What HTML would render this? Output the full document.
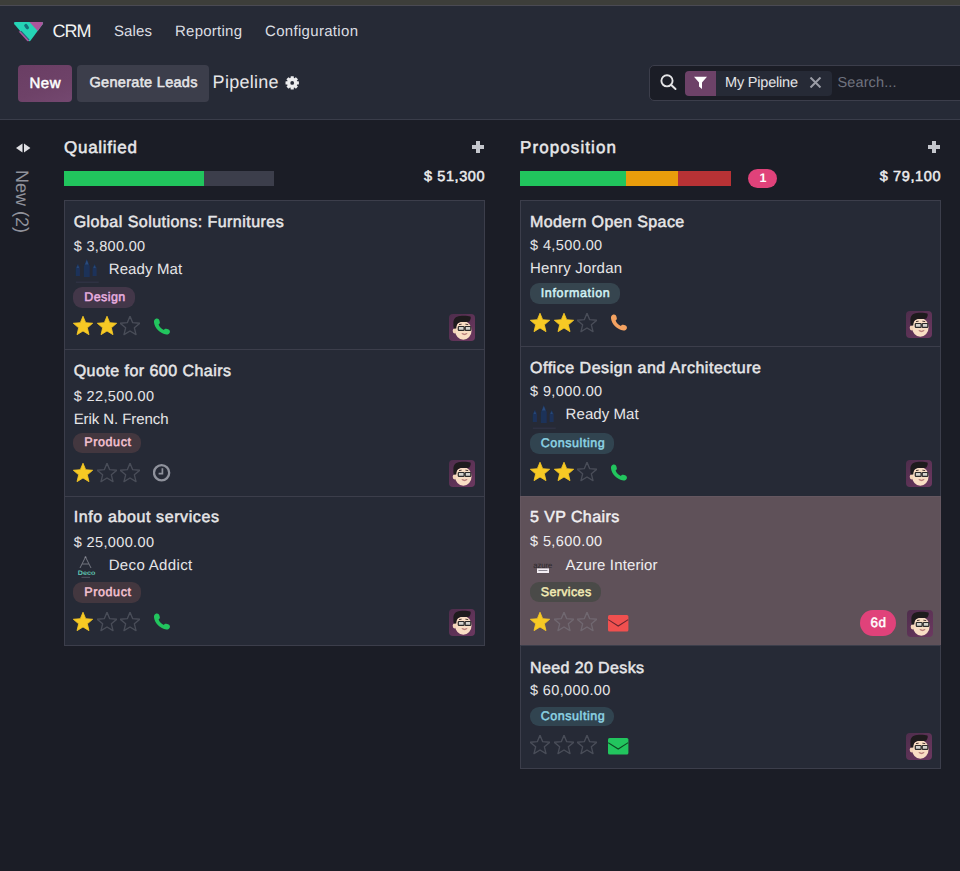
<!DOCTYPE html><html><head><meta charset="utf-8"><title>CRM Pipeline</title><style>
html,body{margin:0;padding:0}body{width:960px;height:871px;overflow:hidden;background:#1b1d26;position:relative;font-family:'Liberation Sans', Arial, sans-serif;text-rendering:geometricPrecision}
.t{position:absolute;white-space:nowrap;line-height:1}
</style></head><body>
<div style="position:absolute;left:0px;top:0px;width:960px;height:5px;background:#3d3e3a;"></div>
<div style="position:absolute;left:0px;top:5px;width:960px;height:1px;background:#4a4a53;"></div>
<div style="position:absolute;left:0px;top:6px;width:960px;height:113px;background:#262a36;"></div>
<div style="position:absolute;left:0px;top:119px;width:960px;height:1px;background:#3a3d4a;"></div>
<svg style="position:absolute;left:10px;top:18px" width="38" height="28" viewBox="0 0 38 28">
<path fill="#25d4b6" d="M5.5,4 L31.5,4 Q34,4 32.6,6.2 L20.6,22.6 Q19.4,24 18.2,22.6 L4.4,6.2 Q3,4 5.5,4 Z"/>
<path fill="#ad559c" d="M19.4,4 L31.5,4 Q34,4 32.6,6.2 L27.8,12.9 Z"/>
<path fill="#ad559c" d="M8.6,13.6 L11.4,13.2 L19.4,21.8 L18.6,23.1 Q17.9,23.6 17.2,22.9 Z"/>
<path stroke="#15707a" stroke-width="3.4" stroke-linecap="round" d="M15.9,7.6 L17.3,9.6" fill="none"/>
<path stroke="#17707a" stroke-width="1.1" d="M11,13.2 L19.2,22" fill="none"/>
</svg>
<div style="position:absolute;left:18px;top:65px;width:54px;height:37px;background:linear-gradient(160deg,#6a3e64 0%,#6e4268 60%,#744870 100%);border-radius:4px"></div>
<div style="position:absolute;left:77px;top:65px;width:132px;height:37px;background:#3c3e4b;border-radius:4px"></div>
<svg style="position:absolute;left:285px;top:75.5px" width="15" height="14" viewBox="0 0 15 14">
<g transform="translate(7.2,6.9)" fill="#ececee">
<circle r="5.1"/>
<rect x="-1.6" y="-6.7" width="3.2" height="13.4" rx="0.5"/>
<rect x="-1.6" y="-6.7" width="3.2" height="13.4" rx="0.5" transform="rotate(45)"/>
<rect x="-1.6" y="-6.7" width="3.2" height="13.4" rx="0.5" transform="rotate(90)"/>
<rect x="-1.6" y="-6.7" width="3.2" height="13.4" rx="0.5" transform="rotate(135)"/>
</g><circle cx="7.2" cy="6.9" r="1.9" fill="#262a36"/></svg>
<div style="position:absolute;left:649px;top:65px;width:340px;height:36px;background:#1b1d26;border:1px solid #3c3e4b;border-radius:5px;box-sizing:border-box"></div>
<svg style="position:absolute;left:659px;top:73px" width="20" height="20" viewBox="0 0 20 20">
<circle cx="8" cy="7.8" r="5.6" fill="none" stroke="#e4e4e6" stroke-width="1.9"/>
<path d="M12,11.8 L16.5,16" stroke="#e4e4e6" stroke-width="2" stroke-linecap="round"/></svg>
<div style="position:absolute;left:685px;top:71px;width:31px;height:25px;background:#6d4268;border-radius:4px 0 0 4px"></div>
<svg style="position:absolute;left:693px;top:76px" width="15" height="14" viewBox="0 0 15 14">
<path d="M1,0.8 L14,0.8 L9,6.5 L9,13 L6,10.5 L6,6.5 Z" fill="#ffffff"/></svg>
<div style="position:absolute;left:716px;top:71px;width:116px;height:25px;background:#262a36;border-radius:0 4px 4px 0"></div>
<svg style="position:absolute;left:809px;top:77px" width="13" height="11" viewBox="0 0 13 11">
<path d="M1.5,0.5 L11.5,10.5 M11.5,0.5 L1.5,10.5" stroke="#9a9ca5" stroke-width="2"/></svg>
<svg style="position:absolute;left:15px;top:143px" width="16" height="10" viewBox="0 0 16 10">
<path d="M7.5,0.5 L7.5,9.5 L1,5 Z" fill="#e0e0e4"/><path d="M9,0.5 L9,9.5 L15.4,5 Z" fill="#e0e0e4"/></svg>
<div style="position:absolute;left:10px;top:170px;width:24px;height:66px;writing-mode:vertical-rl;font-family:'Liberation Sans', Arial, sans-serif;font-size:18px;line-height:24px;color:#90929b;white-space:nowrap;letter-spacing:0px">New (2)</div>
<div style="position:absolute;left:472px;top:145px;width:12px;height:3.6px;background:#c4c6cc;"></div>
<div style="position:absolute;left:476.2px;top:141px;width:3.6px;height:12px;background:#c4c6cc;"></div>
<div style="position:absolute;left:64px;top:171px;width:140px;height:15px;background:#21c55d;"></div>
<div style="position:absolute;left:204px;top:171px;width:70px;height:15px;background:#3c3e4b;"></div>
<div style="position:absolute;left:928px;top:145px;width:12px;height:3.6px;background:#c4c6cc;"></div>
<div style="position:absolute;left:932.2px;top:141px;width:3.6px;height:12px;background:#c4c6cc;"></div>
<div style="position:absolute;left:520px;top:171px;width:105.5px;height:15px;background:#21c55d;"></div>
<div style="position:absolute;left:625.5px;top:171px;width:52.7px;height:15px;background:#e99d0b;"></div>
<div style="position:absolute;left:678.2px;top:171px;width:52.8px;height:15px;background:#b83235;"></div>
<div style="position:absolute;left:748px;top:169px;width:29px;height:19px;background:#e0427a;border-radius:9.5px"></div>
<div style="position:absolute;left:64px;top:200px;width:421px;height:150px;background:#262a36;border:1px solid #3c3e4b;box-sizing:border-box"></div>
<div style="position:absolute;left:64px;top:349px;width:421px;height:148px;background:#262a36;border:1px solid #3c3e4b;box-sizing:border-box"></div>
<div style="position:absolute;left:64px;top:496px;width:421px;height:150px;background:#262a36;border:1px solid #3c3e4b;box-sizing:border-box"></div>
<div style="position:absolute;left:520px;top:200px;width:421px;height:147px;background:#262a36;border:1px solid #3c3e4b;box-sizing:border-box"></div>
<div style="position:absolute;left:520px;top:346px;width:421px;height:151px;background:#262a36;border:1px solid #3c3e4b;box-sizing:border-box"></div>
<div style="position:absolute;left:520px;top:496px;width:421px;height:150px;background:#5f5159;border:1px solid #655760;box-sizing:border-box"></div>
<div style="position:absolute;left:520px;top:645px;width:421px;height:124px;background:#262a36;border:1px solid #3c3e4b;box-sizing:border-box"></div>
<svg style="position:absolute;left:73px;top:258px" width="28" height="27" viewBox="0 0 28 27">
<defs><filter id="bl73258" x="-20%" y="-20%" width="140%" height="140%"><feGaussianBlur stdDeviation="0.45"/></filter></defs>
<g filter="url(#bl73258)">
<path d="M2.8,18 L2.8,10 L4.85,5.8 L6.9,10 L6.9,18 Z" fill="#1c335a"/>
<path d="M10.9,19 L10.9,8 L13.8,1 L16.7,8 L16.7,19 Z" fill="#1b3159"/>
<path d="M19.6,18 L19.6,10 L21.6,6 L23.6,10 L23.6,18 Z" fill="#1c335a"/>
<path d="M12,6.5 L13.8,2 L15.6,6.5 Z" fill="#2a4c7c"/>
<path d="M3.6,10 L4.85,7 L6.1,10 Z" fill="#284878"/>
<path d="M20.4,10 L21.6,7.2 L22.8,10 Z" fill="#284878"/>
<rect x="2.8" y="23.6" width="23" height="1.2" fill="#2f3444"/>
</g></svg>
<div style="position:absolute;left:73px;top:287px;width:62px;height:21px;background:#433749;border-radius:9px"></div>
<svg style="position:absolute;left:73.0px;top:316px" width="20" height="20" viewBox="0 0 20 20"><polygon points="10.00,0.20 12.70,6.68 19.70,7.25 14.37,11.82 16.00,18.65 10.00,15.00 4.00,18.65 5.63,11.82 0.30,7.25 7.30,6.68" fill="#f7c924" stroke="#f7c924" stroke-width="0.8" stroke-linejoin="round"/></svg>
<svg style="position:absolute;left:96.6px;top:316px" width="20" height="20" viewBox="0 0 20 20"><polygon points="10.00,0.20 12.70,6.68 19.70,7.25 14.37,11.82 16.00,18.65 10.00,15.00 4.00,18.65 5.63,11.82 0.30,7.25 7.30,6.68" fill="#f7c924" stroke="#f7c924" stroke-width="0.8" stroke-linejoin="round"/></svg>
<svg style="position:absolute;left:120.2px;top:316px" width="20" height="20" viewBox="0 0 20 20"><polygon points="10.00,0.20 12.70,6.68 19.70,7.25 14.37,11.82 16.00,18.65 10.00,15.00 4.00,18.65 5.63,11.82 0.30,7.25 7.30,6.68" fill="none" stroke="rgba(150,153,163,0.32)" stroke-width="1.35" stroke-linejoin="round"/></svg>
<svg style="position:absolute;left:152.6px;top:317.6px" width="18.6" height="17.5" viewBox="0 0 18 17">
<path d="M3.2,0.6 C4.6,0.2 5.8,1.0 6.2,2.4 L6.6,4.2 C6.8,5.2 6.2,5.9 5.4,6.3 C6.2,8.6 8.2,10.6 10.6,11.6 C11.0,10.8 11.8,10.2 12.8,10.4 L14.6,10.9 C16.0,11.3 16.8,12.6 16.3,14.0 C15.9,15.3 14.6,16.2 13.0,16.1 C7.0,15.5 1.4,9.9 0.9,4.0 C0.8,2.4 1.8,1.0 3.2,0.6 Z" fill="#22c55e"/></svg>
<svg style="position:absolute;left:449px;top:314px" width="26" height="27" viewBox="0 0 26 27">
<defs><linearGradient id="ag449314" x1="0" y1="0" x2="1" y2="1"><stop offset="0" stop-color="#4e2d4c"/><stop offset="1" stop-color="#6c3860"/></linearGradient></defs><rect x="0" y="0" width="26" height="27" rx="4" fill="url(#ag449314)"/>
<ellipse cx="14.3" cy="16.4" rx="8.3" ry="9.3" fill="#f9dec4"/>
<ellipse cx="5.6" cy="16.8" rx="1.9" ry="2.6" fill="#f3d4b8"/>
<path d="M4.4,9.5 C4.2,5 6.5,2.4 11,2 C15,1.7 19,1.8 21.4,2.6 C22.2,3.6 21.6,5.8 20.4,7.4 C18.6,8.2 16,8 13.5,7.9 C11,7.9 9.4,8.3 8.4,9.8 C7.7,11 7.4,12.6 7.2,14.4 L4.8,14.4 C4.4,12.8 4.3,11 4.4,9.5 Z" fill="#1e1b1d"/>
<path d="M10,10.6 L12.6,10.2 M16.4,10.2 L19.2,10.6" stroke="#3a2a28" stroke-width="0.9"/>
<rect x="9.3" y="12.5" width="5.8" height="3.9" rx="0.7" fill="#d4d2cc" stroke="#2b2a2a" stroke-width="1.2"/>
<rect x="16.2" y="12.5" width="5.6" height="3.9" rx="0.7" fill="#d4d2cc" stroke="#2b2a2a" stroke-width="1.2"/>
<path d="M15.1,14 L16.2,14" stroke="#2b2a2a" stroke-width="1"/>
<path d="M12.8,19.6 Q15.4,21.8 18.2,19.5 Q15.4,20.6 12.8,19.6 Z" fill="#c98a8a" stroke="#a86a6a" stroke-width="0.6"/>
</svg>
<div style="position:absolute;left:73px;top:433px;width:67.7px;height:20.3px;background:#43373f;border-radius:9px"></div>
<svg style="position:absolute;left:73.0px;top:462.5px" width="20" height="20" viewBox="0 0 20 20"><polygon points="10.00,0.20 12.70,6.68 19.70,7.25 14.37,11.82 16.00,18.65 10.00,15.00 4.00,18.65 5.63,11.82 0.30,7.25 7.30,6.68" fill="#f7c924" stroke="#f7c924" stroke-width="0.8" stroke-linejoin="round"/></svg>
<svg style="position:absolute;left:96.6px;top:462.5px" width="20" height="20" viewBox="0 0 20 20"><polygon points="10.00,0.20 12.70,6.68 19.70,7.25 14.37,11.82 16.00,18.65 10.00,15.00 4.00,18.65 5.63,11.82 0.30,7.25 7.30,6.68" fill="none" stroke="rgba(150,153,163,0.32)" stroke-width="1.35" stroke-linejoin="round"/></svg>
<svg style="position:absolute;left:120.2px;top:462.5px" width="20" height="20" viewBox="0 0 20 20"><polygon points="10.00,0.20 12.70,6.68 19.70,7.25 14.37,11.82 16.00,18.65 10.00,15.00 4.00,18.65 5.63,11.82 0.30,7.25 7.30,6.68" fill="none" stroke="rgba(150,153,163,0.32)" stroke-width="1.35" stroke-linejoin="round"/></svg>
<svg style="position:absolute;left:152.5px;top:463.5px" width="18" height="18" viewBox="0 0 18 18">
<circle cx="8.6" cy="8.8" r="7.6" fill="none" stroke="#8f929c" stroke-width="2.3"/>
<path d="M9.4,4.3 V9.6 H5.6" fill="none" stroke="#8f929c" stroke-width="1.7"/></svg>
<svg style="position:absolute;left:449px;top:460px" width="26" height="27" viewBox="0 0 26 27">
<defs><linearGradient id="ag449460" x1="0" y1="0" x2="1" y2="1"><stop offset="0" stop-color="#4e2d4c"/><stop offset="1" stop-color="#6c3860"/></linearGradient></defs><rect x="0" y="0" width="26" height="27" rx="4" fill="url(#ag449460)"/>
<ellipse cx="14.3" cy="16.4" rx="8.3" ry="9.3" fill="#f9dec4"/>
<ellipse cx="5.6" cy="16.8" rx="1.9" ry="2.6" fill="#f3d4b8"/>
<path d="M4.4,9.5 C4.2,5 6.5,2.4 11,2 C15,1.7 19,1.8 21.4,2.6 C22.2,3.6 21.6,5.8 20.4,7.4 C18.6,8.2 16,8 13.5,7.9 C11,7.9 9.4,8.3 8.4,9.8 C7.7,11 7.4,12.6 7.2,14.4 L4.8,14.4 C4.4,12.8 4.3,11 4.4,9.5 Z" fill="#1e1b1d"/>
<path d="M10,10.6 L12.6,10.2 M16.4,10.2 L19.2,10.6" stroke="#3a2a28" stroke-width="0.9"/>
<rect x="9.3" y="12.5" width="5.8" height="3.9" rx="0.7" fill="#d4d2cc" stroke="#2b2a2a" stroke-width="1.2"/>
<rect x="16.2" y="12.5" width="5.6" height="3.9" rx="0.7" fill="#d4d2cc" stroke="#2b2a2a" stroke-width="1.2"/>
<path d="M15.1,14 L16.2,14" stroke="#2b2a2a" stroke-width="1"/>
<path d="M12.8,19.6 Q15.4,21.8 18.2,19.5 Q15.4,20.6 12.8,19.6 Z" fill="#c98a8a" stroke="#a86a6a" stroke-width="0.6"/>
</svg>
<svg style="position:absolute;left:73px;top:554px" width="26" height="26" viewBox="0 0 26 26">
<path d="M7,14 L12.5,3 L18,14 M9.2,10 L15.8,10" fill="none" stroke="#7d7f8a" stroke-width="0.9"/>
<circle cx="12.5" cy="3.2" r="0.9" fill="#8a8c96"/>
<text x="13.6" y="21" font-family="Liberation Sans, sans-serif" font-size="6.5" font-weight="700" fill="#5fc2b0" text-anchor="middle" textLength="17.5" lengthAdjust="spacingAndGlyphs">Deco</text>
<rect x="8.5" y="22.8" width="8.5" height="1.2" fill="#4a4d5a"/>
</svg>
<div style="position:absolute;left:73px;top:582px;width:67.7px;height:20.5px;background:#43373f;border-radius:9px"></div>
<svg style="position:absolute;left:73.0px;top:611.5px" width="20" height="20" viewBox="0 0 20 20"><polygon points="10.00,0.20 12.70,6.68 19.70,7.25 14.37,11.82 16.00,18.65 10.00,15.00 4.00,18.65 5.63,11.82 0.30,7.25 7.30,6.68" fill="#f7c924" stroke="#f7c924" stroke-width="0.8" stroke-linejoin="round"/></svg>
<svg style="position:absolute;left:96.6px;top:611.5px" width="20" height="20" viewBox="0 0 20 20"><polygon points="10.00,0.20 12.70,6.68 19.70,7.25 14.37,11.82 16.00,18.65 10.00,15.00 4.00,18.65 5.63,11.82 0.30,7.25 7.30,6.68" fill="none" stroke="rgba(150,153,163,0.32)" stroke-width="1.35" stroke-linejoin="round"/></svg>
<svg style="position:absolute;left:120.2px;top:611.5px" width="20" height="20" viewBox="0 0 20 20"><polygon points="10.00,0.20 12.70,6.68 19.70,7.25 14.37,11.82 16.00,18.65 10.00,15.00 4.00,18.65 5.63,11.82 0.30,7.25 7.30,6.68" fill="none" stroke="rgba(150,153,163,0.32)" stroke-width="1.35" stroke-linejoin="round"/></svg>
<svg style="position:absolute;left:152.6px;top:613.3px" width="18.6" height="17.5" viewBox="0 0 18 17">
<path d="M3.2,0.6 C4.6,0.2 5.8,1.0 6.2,2.4 L6.6,4.2 C6.8,5.2 6.2,5.9 5.4,6.3 C6.2,8.6 8.2,10.6 10.6,11.6 C11.0,10.8 11.8,10.2 12.8,10.4 L14.6,10.9 C16.0,11.3 16.8,12.6 16.3,14.0 C15.9,15.3 14.6,16.2 13.0,16.1 C7.0,15.5 1.4,9.9 0.9,4.0 C0.8,2.4 1.8,1.0 3.2,0.6 Z" fill="#22c55e"/></svg>
<svg style="position:absolute;left:449px;top:609px" width="26" height="27" viewBox="0 0 26 27">
<defs><linearGradient id="ag449609" x1="0" y1="0" x2="1" y2="1"><stop offset="0" stop-color="#4e2d4c"/><stop offset="1" stop-color="#6c3860"/></linearGradient></defs><rect x="0" y="0" width="26" height="27" rx="4" fill="url(#ag449609)"/>
<ellipse cx="14.3" cy="16.4" rx="8.3" ry="9.3" fill="#f9dec4"/>
<ellipse cx="5.6" cy="16.8" rx="1.9" ry="2.6" fill="#f3d4b8"/>
<path d="M4.4,9.5 C4.2,5 6.5,2.4 11,2 C15,1.7 19,1.8 21.4,2.6 C22.2,3.6 21.6,5.8 20.4,7.4 C18.6,8.2 16,8 13.5,7.9 C11,7.9 9.4,8.3 8.4,9.8 C7.7,11 7.4,12.6 7.2,14.4 L4.8,14.4 C4.4,12.8 4.3,11 4.4,9.5 Z" fill="#1e1b1d"/>
<path d="M10,10.6 L12.6,10.2 M16.4,10.2 L19.2,10.6" stroke="#3a2a28" stroke-width="0.9"/>
<rect x="9.3" y="12.5" width="5.8" height="3.9" rx="0.7" fill="#d4d2cc" stroke="#2b2a2a" stroke-width="1.2"/>
<rect x="16.2" y="12.5" width="5.6" height="3.9" rx="0.7" fill="#d4d2cc" stroke="#2b2a2a" stroke-width="1.2"/>
<path d="M15.1,14 L16.2,14" stroke="#2b2a2a" stroke-width="1"/>
<path d="M12.8,19.6 Q15.4,21.8 18.2,19.5 Q15.4,20.6 12.8,19.6 Z" fill="#c98a8a" stroke="#a86a6a" stroke-width="0.6"/>
</svg>
<div style="position:absolute;left:530px;top:283.4px;width:89.7px;height:20.3px;background:#36454f;border-radius:9px"></div>
<svg style="position:absolute;left:530.0px;top:312.5px" width="20" height="20" viewBox="0 0 20 20"><polygon points="10.00,0.20 12.70,6.68 19.70,7.25 14.37,11.82 16.00,18.65 10.00,15.00 4.00,18.65 5.63,11.82 0.30,7.25 7.30,6.68" fill="#f7c924" stroke="#f7c924" stroke-width="0.8" stroke-linejoin="round"/></svg>
<svg style="position:absolute;left:553.6px;top:312.5px" width="20" height="20" viewBox="0 0 20 20"><polygon points="10.00,0.20 12.70,6.68 19.70,7.25 14.37,11.82 16.00,18.65 10.00,15.00 4.00,18.65 5.63,11.82 0.30,7.25 7.30,6.68" fill="#f7c924" stroke="#f7c924" stroke-width="0.8" stroke-linejoin="round"/></svg>
<svg style="position:absolute;left:577.2px;top:312.5px" width="20" height="20" viewBox="0 0 20 20"><polygon points="10.00,0.20 12.70,6.68 19.70,7.25 14.37,11.82 16.00,18.65 10.00,15.00 4.00,18.65 5.63,11.82 0.30,7.25 7.30,6.68" fill="none" stroke="rgba(150,153,163,0.32)" stroke-width="1.35" stroke-linejoin="round"/></svg>
<svg style="position:absolute;left:609.5px;top:314px" width="18.6" height="17.5" viewBox="0 0 18 17">
<path d="M3.2,0.6 C4.6,0.2 5.8,1.0 6.2,2.4 L6.6,4.2 C6.8,5.2 6.2,5.9 5.4,6.3 C6.2,8.6 8.2,10.6 10.6,11.6 C11.0,10.8 11.8,10.2 12.8,10.4 L14.6,10.9 C16.0,11.3 16.8,12.6 16.3,14.0 C15.9,15.3 14.6,16.2 13.0,16.1 C7.0,15.5 1.4,9.9 0.9,4.0 C0.8,2.4 1.8,1.0 3.2,0.6 Z" fill="#f4a261"/></svg>
<svg style="position:absolute;left:905.5px;top:310.5px" width="26" height="27" viewBox="0 0 26 27">
<defs><linearGradient id="ag905310" x1="0" y1="0" x2="1" y2="1"><stop offset="0" stop-color="#4e2d4c"/><stop offset="1" stop-color="#6c3860"/></linearGradient></defs><rect x="0" y="0" width="26" height="27" rx="4" fill="url(#ag905310)"/>
<ellipse cx="14.3" cy="16.4" rx="8.3" ry="9.3" fill="#f9dec4"/>
<ellipse cx="5.6" cy="16.8" rx="1.9" ry="2.6" fill="#f3d4b8"/>
<path d="M4.4,9.5 C4.2,5 6.5,2.4 11,2 C15,1.7 19,1.8 21.4,2.6 C22.2,3.6 21.6,5.8 20.4,7.4 C18.6,8.2 16,8 13.5,7.9 C11,7.9 9.4,8.3 8.4,9.8 C7.7,11 7.4,12.6 7.2,14.4 L4.8,14.4 C4.4,12.8 4.3,11 4.4,9.5 Z" fill="#1e1b1d"/>
<path d="M10,10.6 L12.6,10.2 M16.4,10.2 L19.2,10.6" stroke="#3a2a28" stroke-width="0.9"/>
<rect x="9.3" y="12.5" width="5.8" height="3.9" rx="0.7" fill="#d4d2cc" stroke="#2b2a2a" stroke-width="1.2"/>
<rect x="16.2" y="12.5" width="5.6" height="3.9" rx="0.7" fill="#d4d2cc" stroke="#2b2a2a" stroke-width="1.2"/>
<path d="M15.1,14 L16.2,14" stroke="#2b2a2a" stroke-width="1"/>
<path d="M12.8,19.6 Q15.4,21.8 18.2,19.5 Q15.4,20.6 12.8,19.6 Z" fill="#c98a8a" stroke="#a86a6a" stroke-width="0.6"/>
</svg>
<svg style="position:absolute;left:530px;top:404px" width="28" height="27" viewBox="0 0 28 27">
<defs><filter id="bl530404" x="-20%" y="-20%" width="140%" height="140%"><feGaussianBlur stdDeviation="0.45"/></filter></defs>
<g filter="url(#bl530404)">
<path d="M2.8,18 L2.8,10 L4.85,5.8 L6.9,10 L6.9,18 Z" fill="#1c335a"/>
<path d="M10.9,19 L10.9,8 L13.8,1 L16.7,8 L16.7,19 Z" fill="#1b3159"/>
<path d="M19.6,18 L19.6,10 L21.6,6 L23.6,10 L23.6,18 Z" fill="#1c335a"/>
<path d="M12,6.5 L13.8,2 L15.6,6.5 Z" fill="#2a4c7c"/>
<path d="M3.6,10 L4.85,7 L6.1,10 Z" fill="#284878"/>
<path d="M20.4,10 L21.6,7.2 L22.8,10 Z" fill="#284878"/>
<rect x="2.8" y="23.6" width="23" height="1.2" fill="#2f3444"/>
</g></svg>
<div style="position:absolute;left:530px;top:433.2px;width:84px;height:20.6px;background:#314450;border-radius:9px"></div>
<svg style="position:absolute;left:530.0px;top:462px" width="20" height="20" viewBox="0 0 20 20"><polygon points="10.00,0.20 12.70,6.68 19.70,7.25 14.37,11.82 16.00,18.65 10.00,15.00 4.00,18.65 5.63,11.82 0.30,7.25 7.30,6.68" fill="#f7c924" stroke="#f7c924" stroke-width="0.8" stroke-linejoin="round"/></svg>
<svg style="position:absolute;left:553.6px;top:462px" width="20" height="20" viewBox="0 0 20 20"><polygon points="10.00,0.20 12.70,6.68 19.70,7.25 14.37,11.82 16.00,18.65 10.00,15.00 4.00,18.65 5.63,11.82 0.30,7.25 7.30,6.68" fill="#f7c924" stroke="#f7c924" stroke-width="0.8" stroke-linejoin="round"/></svg>
<svg style="position:absolute;left:577.2px;top:462px" width="20" height="20" viewBox="0 0 20 20"><polygon points="10.00,0.20 12.70,6.68 19.70,7.25 14.37,11.82 16.00,18.65 10.00,15.00 4.00,18.65 5.63,11.82 0.30,7.25 7.30,6.68" fill="none" stroke="rgba(150,153,163,0.32)" stroke-width="1.35" stroke-linejoin="round"/></svg>
<svg style="position:absolute;left:609.5px;top:464px" width="18.6" height="17.5" viewBox="0 0 18 17">
<path d="M3.2,0.6 C4.6,0.2 5.8,1.0 6.2,2.4 L6.6,4.2 C6.8,5.2 6.2,5.9 5.4,6.3 C6.2,8.6 8.2,10.6 10.6,11.6 C11.0,10.8 11.8,10.2 12.8,10.4 L14.6,10.9 C16.0,11.3 16.8,12.6 16.3,14.0 C15.9,15.3 14.6,16.2 13.0,16.1 C7.0,15.5 1.4,9.9 0.9,4.0 C0.8,2.4 1.8,1.0 3.2,0.6 Z" fill="#22c55e"/></svg>
<svg style="position:absolute;left:905.5px;top:460px" width="26" height="27" viewBox="0 0 26 27">
<defs><linearGradient id="ag905460" x1="0" y1="0" x2="1" y2="1"><stop offset="0" stop-color="#4e2d4c"/><stop offset="1" stop-color="#6c3860"/></linearGradient></defs><rect x="0" y="0" width="26" height="27" rx="4" fill="url(#ag905460)"/>
<ellipse cx="14.3" cy="16.4" rx="8.3" ry="9.3" fill="#f9dec4"/>
<ellipse cx="5.6" cy="16.8" rx="1.9" ry="2.6" fill="#f3d4b8"/>
<path d="M4.4,9.5 C4.2,5 6.5,2.4 11,2 C15,1.7 19,1.8 21.4,2.6 C22.2,3.6 21.6,5.8 20.4,7.4 C18.6,8.2 16,8 13.5,7.9 C11,7.9 9.4,8.3 8.4,9.8 C7.7,11 7.4,12.6 7.2,14.4 L4.8,14.4 C4.4,12.8 4.3,11 4.4,9.5 Z" fill="#1e1b1d"/>
<path d="M10,10.6 L12.6,10.2 M16.4,10.2 L19.2,10.6" stroke="#3a2a28" stroke-width="0.9"/>
<rect x="9.3" y="12.5" width="5.8" height="3.9" rx="0.7" fill="#d4d2cc" stroke="#2b2a2a" stroke-width="1.2"/>
<rect x="16.2" y="12.5" width="5.6" height="3.9" rx="0.7" fill="#d4d2cc" stroke="#2b2a2a" stroke-width="1.2"/>
<path d="M15.1,14 L16.2,14" stroke="#2b2a2a" stroke-width="1"/>
<path d="M12.8,19.6 Q15.4,21.8 18.2,19.5 Q15.4,20.6 12.8,19.6 Z" fill="#c98a8a" stroke="#a86a6a" stroke-width="0.6"/>
</svg>
<svg style="position:absolute;left:528px;top:555px" width="26" height="22" viewBox="0 0 26 22">
<text x="14.8" y="12.6" font-family="Liberation Sans, sans-serif" font-size="8" font-weight="400" fill="#2c282c" text-anchor="middle" textLength="19" lengthAdjust="spacingAndGlyphs">azure</text>
<rect x="9" y="13.4" width="12" height="4.6" fill="#f4eef4"/>
<rect x="10.4" y="15" width="9" height="1" fill="#8a8590"/>
</svg>
<div style="position:absolute;left:530px;top:582.2px;width:70.6px;height:20.1px;background:#4a4a48;border-radius:9px"></div>
<svg style="position:absolute;left:530.0px;top:611.5px" width="20" height="20" viewBox="0 0 20 20"><polygon points="10.00,0.20 12.70,6.68 19.70,7.25 14.37,11.82 16.00,18.65 10.00,15.00 4.00,18.65 5.63,11.82 0.30,7.25 7.30,6.68" fill="#f7c924" stroke="#f7c924" stroke-width="0.8" stroke-linejoin="round"/></svg>
<svg style="position:absolute;left:553.6px;top:611.5px" width="20" height="20" viewBox="0 0 20 20"><polygon points="10.00,0.20 12.70,6.68 19.70,7.25 14.37,11.82 16.00,18.65 10.00,15.00 4.00,18.65 5.63,11.82 0.30,7.25 7.30,6.68" fill="none" stroke="rgba(150,153,163,0.32)" stroke-width="1.35" stroke-linejoin="round"/></svg>
<svg style="position:absolute;left:577.2px;top:611.5px" width="20" height="20" viewBox="0 0 20 20"><polygon points="10.00,0.20 12.70,6.68 19.70,7.25 14.37,11.82 16.00,18.65 10.00,15.00 4.00,18.65 5.63,11.82 0.30,7.25 7.30,6.68" fill="none" stroke="rgba(150,153,163,0.32)" stroke-width="1.35" stroke-linejoin="round"/></svg>
<svg style="position:absolute;left:607.7px;top:615.4px" width="21" height="17" viewBox="0 0 21 17">
<rect x="0" y="0" width="20.4" height="16.5" rx="1.6" fill="#f0504f"/>
<path d="M0.2,4.6 L10.2,11 L20.2,4.6" fill="none" stroke="#6a2630" stroke-width="1.1"/></svg>
<div style="position:absolute;left:860px;top:610px;width:36.2px;height:25.8px;background:#e0427a;border-radius:12.9px"></div>
<svg style="position:absolute;left:906.5px;top:609.5px" width="26" height="27" viewBox="0 0 26 27">
<defs><linearGradient id="ag906609" x1="0" y1="0" x2="1" y2="1"><stop offset="0" stop-color="#4e2d4c"/><stop offset="1" stop-color="#6c3860"/></linearGradient></defs><rect x="0" y="0" width="26" height="27" rx="4" fill="url(#ag906609)"/>
<ellipse cx="14.3" cy="16.4" rx="8.3" ry="9.3" fill="#f9dec4"/>
<ellipse cx="5.6" cy="16.8" rx="1.9" ry="2.6" fill="#f3d4b8"/>
<path d="M4.4,9.5 C4.2,5 6.5,2.4 11,2 C15,1.7 19,1.8 21.4,2.6 C22.2,3.6 21.6,5.8 20.4,7.4 C18.6,8.2 16,8 13.5,7.9 C11,7.9 9.4,8.3 8.4,9.8 C7.7,11 7.4,12.6 7.2,14.4 L4.8,14.4 C4.4,12.8 4.3,11 4.4,9.5 Z" fill="#1e1b1d"/>
<path d="M10,10.6 L12.6,10.2 M16.4,10.2 L19.2,10.6" stroke="#3a2a28" stroke-width="0.9"/>
<rect x="9.3" y="12.5" width="5.8" height="3.9" rx="0.7" fill="#d4d2cc" stroke="#2b2a2a" stroke-width="1.2"/>
<rect x="16.2" y="12.5" width="5.6" height="3.9" rx="0.7" fill="#d4d2cc" stroke="#2b2a2a" stroke-width="1.2"/>
<path d="M15.1,14 L16.2,14" stroke="#2b2a2a" stroke-width="1"/>
<path d="M12.8,19.6 Q15.4,21.8 18.2,19.5 Q15.4,20.6 12.8,19.6 Z" fill="#c98a8a" stroke="#a86a6a" stroke-width="0.6"/>
</svg>
<div style="position:absolute;left:530px;top:706.6px;width:84px;height:19.3px;background:#314450;border-radius:9px"></div>
<svg style="position:absolute;left:530.0px;top:735px" width="20" height="20" viewBox="0 0 20 20"><polygon points="10.00,0.20 12.70,6.68 19.70,7.25 14.37,11.82 16.00,18.65 10.00,15.00 4.00,18.65 5.63,11.82 0.30,7.25 7.30,6.68" fill="none" stroke="rgba(150,153,163,0.32)" stroke-width="1.35" stroke-linejoin="round"/></svg>
<svg style="position:absolute;left:553.6px;top:735px" width="20" height="20" viewBox="0 0 20 20"><polygon points="10.00,0.20 12.70,6.68 19.70,7.25 14.37,11.82 16.00,18.65 10.00,15.00 4.00,18.65 5.63,11.82 0.30,7.25 7.30,6.68" fill="none" stroke="rgba(150,153,163,0.32)" stroke-width="1.35" stroke-linejoin="round"/></svg>
<svg style="position:absolute;left:577.2px;top:735px" width="20" height="20" viewBox="0 0 20 20"><polygon points="10.00,0.20 12.70,6.68 19.70,7.25 14.37,11.82 16.00,18.65 10.00,15.00 4.00,18.65 5.63,11.82 0.30,7.25 7.30,6.68" fill="none" stroke="rgba(150,153,163,0.32)" stroke-width="1.35" stroke-linejoin="round"/></svg>
<svg style="position:absolute;left:607.7px;top:738px" width="21" height="17" viewBox="0 0 21 17">
<rect x="0" y="0" width="20.4" height="16.5" rx="1.6" fill="#22c55e"/>
<path d="M0.2,4.6 L10.2,11 L20.2,4.6" fill="none" stroke="#0c4a22" stroke-width="1.1"/></svg>
<svg style="position:absolute;left:905.5px;top:733px" width="26" height="27" viewBox="0 0 26 27">
<defs><linearGradient id="ag905733" x1="0" y1="0" x2="1" y2="1"><stop offset="0" stop-color="#4e2d4c"/><stop offset="1" stop-color="#6c3860"/></linearGradient></defs><rect x="0" y="0" width="26" height="27" rx="4" fill="url(#ag905733)"/>
<ellipse cx="14.3" cy="16.4" rx="8.3" ry="9.3" fill="#f9dec4"/>
<ellipse cx="5.6" cy="16.8" rx="1.9" ry="2.6" fill="#f3d4b8"/>
<path d="M4.4,9.5 C4.2,5 6.5,2.4 11,2 C15,1.7 19,1.8 21.4,2.6 C22.2,3.6 21.6,5.8 20.4,7.4 C18.6,8.2 16,8 13.5,7.9 C11,7.9 9.4,8.3 8.4,9.8 C7.7,11 7.4,12.6 7.2,14.4 L4.8,14.4 C4.4,12.8 4.3,11 4.4,9.5 Z" fill="#1e1b1d"/>
<path d="M10,10.6 L12.6,10.2 M16.4,10.2 L19.2,10.6" stroke="#3a2a28" stroke-width="0.9"/>
<rect x="9.3" y="12.5" width="5.8" height="3.9" rx="0.7" fill="#d4d2cc" stroke="#2b2a2a" stroke-width="1.2"/>
<rect x="16.2" y="12.5" width="5.6" height="3.9" rx="0.7" fill="#d4d2cc" stroke="#2b2a2a" stroke-width="1.2"/>
<path d="M15.1,14 L16.2,14" stroke="#2b2a2a" stroke-width="1"/>
<path d="M12.8,19.6 Q15.4,21.8 18.2,19.5 Q15.4,20.6 12.8,19.6 Z" fill="#c98a8a" stroke="#a86a6a" stroke-width="0.6"/>
</svg>
<div class="t" id="t0" style="left:52.50px;top:21.76px;font-size:18px;font-weight:400;color:#f2f2f2;letter-spacing:-1.000px;">CRM</div>
<div class="t" id="t1" style="left:114.00px;top:23.90px;font-size:15px;font-weight:400;color:#dcdee2;letter-spacing:0.117px;">Sales</div>
<div class="t" id="t2" style="left:175.00px;top:23.90px;font-size:15px;font-weight:400;color:#dcdee2;letter-spacing:0.244px;">Reporting</div>
<div class="t" id="t3" style="left:265.00px;top:23.90px;font-size:15px;font-weight:400;color:#dcdee2;letter-spacing:0.314px;">Configuration</div>
<div class="t" id="t4" style="left:29.50px;top:75.90px;font-size:15px;font-weight:400;-webkit-text-stroke:0.5px #ffffff;color:#ffffff;letter-spacing:0.492px;">New</div>
<div class="t" id="t5" style="left:89.50px;top:75.73px;font-size:14.5px;font-weight:400;-webkit-text-stroke:0.5px #e6e6e8;color:#e6e6e8;letter-spacing:0.308px;">Generate Leads</div>
<div class="t" id="t6" style="left:212.60px;top:73.06px;font-size:18px;font-weight:400;color:#e6e6e8;letter-spacing:0.279px;">Pipeline</div>
<div class="t" id="t7" style="left:725.00px;top:76.23px;font-size:14.5px;font-weight:400;color:#e4e4e6;letter-spacing:-0.195px;">My Pipeline</div>
<div class="t" id="t8" style="left:837.50px;top:76.23px;font-size:14.5px;font-weight:400;color:#6f727e;letter-spacing:0.121px;">Search...</div>
<div class="t" id="t9" style="left:64.00px;top:139.11px;font-size:17px;font-weight:400;-webkit-text-stroke:0.5px #e8e8ea;color:#e8e8ea;letter-spacing:0.736px;">Qualified</div>
<div class="t" id="t10" style="left:424.00px;top:170.23px;font-size:14.5px;font-weight:400;-webkit-text-stroke:0.5px #ececee;color:#ececee;letter-spacing:0.578px;">$ 51,300</div>
<div class="t" id="t11" style="left:520.00px;top:139.11px;font-size:17px;font-weight:400;-webkit-text-stroke:0.5px #e8e8ea;color:#e8e8ea;letter-spacing:1.094px;">Proposition</div>
<div class="t" id="t12" style="left:759.50px;top:172.42px;font-size:12.5px;font-weight:700;color:#ffffff;letter-spacing:0.047px;">1</div>
<div class="t" id="t13" style="left:879.70px;top:170.23px;font-size:14.5px;font-weight:400;-webkit-text-stroke:0.5px #ececee;color:#ececee;letter-spacing:0.621px;">$ 79,100</div>
<div class="t" id="t14" style="left:73.70px;top:214.76px;font-size:16px;font-weight:400;-webkit-text-stroke:0.5px #e6e6e8;color:#e6e6e8;letter-spacing:0.465px;">Global Solutions: Furnitures</div>
<div class="t" id="t15" style="left:73.70px;top:239.53px;font-size:14.5px;font-weight:400;color:#e6e6e8;letter-spacing:0.328px;">$ 3,800.00</div>
<div class="t" id="t16" style="left:108.70px;top:261.60px;font-size:15px;font-weight:400;color:#e6e6e8;letter-spacing:0.119px;">Ready Mat</div>
<div class="t" id="t17" style="left:84.30px;top:290.72px;font-size:12.5px;font-weight:400;-webkit-text-stroke:0.5px #eab0e0;color:#eab0e0;letter-spacing:0.416px;">Design</div>
<div class="t" id="t18" style="left:73.70px;top:364.06px;font-size:16px;font-weight:400;-webkit-text-stroke:0.5px #e6e6e8;color:#e6e6e8;letter-spacing:0.462px;">Quote for 600 Chairs</div>
<div class="t" id="t19" style="left:73.70px;top:389.53px;font-size:14.5px;font-weight:400;color:#e6e6e8;letter-spacing:0.369px;">$ 22,500.00</div>
<div class="t" id="t20" style="left:73.70px;top:411.60px;font-size:15px;font-weight:400;color:#e6e6e8;letter-spacing:-0.081px;">Erik N. French</div>
<div class="t" id="t21" style="left:84.30px;top:436.42px;font-size:12.5px;font-weight:400;-webkit-text-stroke:0.5px #f5c2d2;color:#f5c2d2;letter-spacing:0.601px;">Product</div>
<div class="t" id="t22" style="left:73.70px;top:510.26px;font-size:16px;font-weight:400;-webkit-text-stroke:0.5px #e6e6e8;color:#e6e6e8;letter-spacing:0.611px;">Info about services</div>
<div class="t" id="t23" style="left:73.70px;top:535.73px;font-size:14.5px;font-weight:400;color:#e6e6e8;letter-spacing:0.369px;">$ 25,000.00</div>
<div class="t" id="t24" style="left:108.70px;top:557.90px;font-size:15px;font-weight:400;color:#e6e6e8;letter-spacing:0.345px;">Deco Addict</div>
<div class="t" id="t25" style="left:84.30px;top:585.92px;font-size:12.5px;font-weight:400;-webkit-text-stroke:0.5px #f5c2d2;color:#f5c2d2;letter-spacing:0.601px;">Product</div>
<div class="t" id="t26" style="left:530.00px;top:215.26px;font-size:16px;font-weight:400;-webkit-text-stroke:0.5px #e6e6e8;color:#e6e6e8;letter-spacing:0.409px;">Modern Open Space</div>
<div class="t" id="t27" style="left:530.00px;top:239.03px;font-size:14.5px;font-weight:400;color:#e6e6e8;letter-spacing:0.406px;">$ 4,500.00</div>
<div class="t" id="t28" style="left:530.00px;top:261.00px;font-size:15px;font-weight:400;color:#e6e6e8;letter-spacing:0.178px;">Henry Jordan</div>
<div class="t" id="t29" style="left:540.70px;top:287.42px;font-size:12.5px;font-weight:400;-webkit-text-stroke:0.5px #d2f2f4;color:#d2f2f4;letter-spacing:0.647px;">Information</div>
<div class="t" id="t30" style="left:530.00px;top:361.46px;font-size:16px;font-weight:400;-webkit-text-stroke:0.5px #e6e6e8;color:#e6e6e8;letter-spacing:0.523px;">Office Design and Architecture</div>
<div class="t" id="t31" style="left:530.00px;top:385.33px;font-size:14.5px;font-weight:400;color:#e6e6e8;letter-spacing:0.406px;">$ 9,000.00</div>
<div class="t" id="t32" style="left:565.60px;top:407.30px;font-size:15px;font-weight:400;color:#e6e6e8;letter-spacing:0.057px;">Ready Mat</div>
<div class="t" id="t33" style="left:540.70px;top:437.42px;font-size:12.5px;font-weight:400;-webkit-text-stroke:0.5px #8dd4e4;color:#8dd4e4;letter-spacing:0.547px;">Consulting</div>
<div class="t" id="t34" style="left:530.00px;top:510.26px;font-size:16px;font-weight:400;-webkit-text-stroke:0.5px #f0eef0;color:#f0eef0;letter-spacing:0.412px;">5 VP Chairs</div>
<div class="t" id="t35" style="left:530.00px;top:535.33px;font-size:14.5px;font-weight:400;color:#f0eef0;letter-spacing:0.406px;">$ 5,600.00</div>
<div class="t" id="t36" style="left:565.60px;top:557.80px;font-size:15px;font-weight:400;color:#f0eef0;letter-spacing:0.150px;">Azure Interior</div>
<div class="t" id="t37" style="left:540.70px;top:586.42px;font-size:12.5px;font-weight:400;-webkit-text-stroke:0.5px #f2eab4;color:#f2eab4;letter-spacing:0.366px;">Services</div>
<div class="t" id="t38" style="left:870.50px;top:616.07px;font-size:13.5px;font-weight:400;-webkit-text-stroke:0.5px #ffffff;color:#ffffff;letter-spacing:0.469px;">6d</div>
<div class="t" id="t39" style="left:530.00px;top:660.76px;font-size:16px;font-weight:400;-webkit-text-stroke:0.5px #e6e6e8;color:#e6e6e8;letter-spacing:0.392px;">Need 20 Desks</div>
<div class="t" id="t40" style="left:530.00px;top:684.13px;font-size:14.5px;font-weight:400;color:#e6e6e8;letter-spacing:0.369px;">$ 60,000.00</div>
<div class="t" id="t41" style="left:540.70px;top:710.42px;font-size:12.5px;font-weight:400;-webkit-text-stroke:0.5px #8dd4e4;color:#8dd4e4;letter-spacing:0.547px;">Consulting</div>
</body></html>
